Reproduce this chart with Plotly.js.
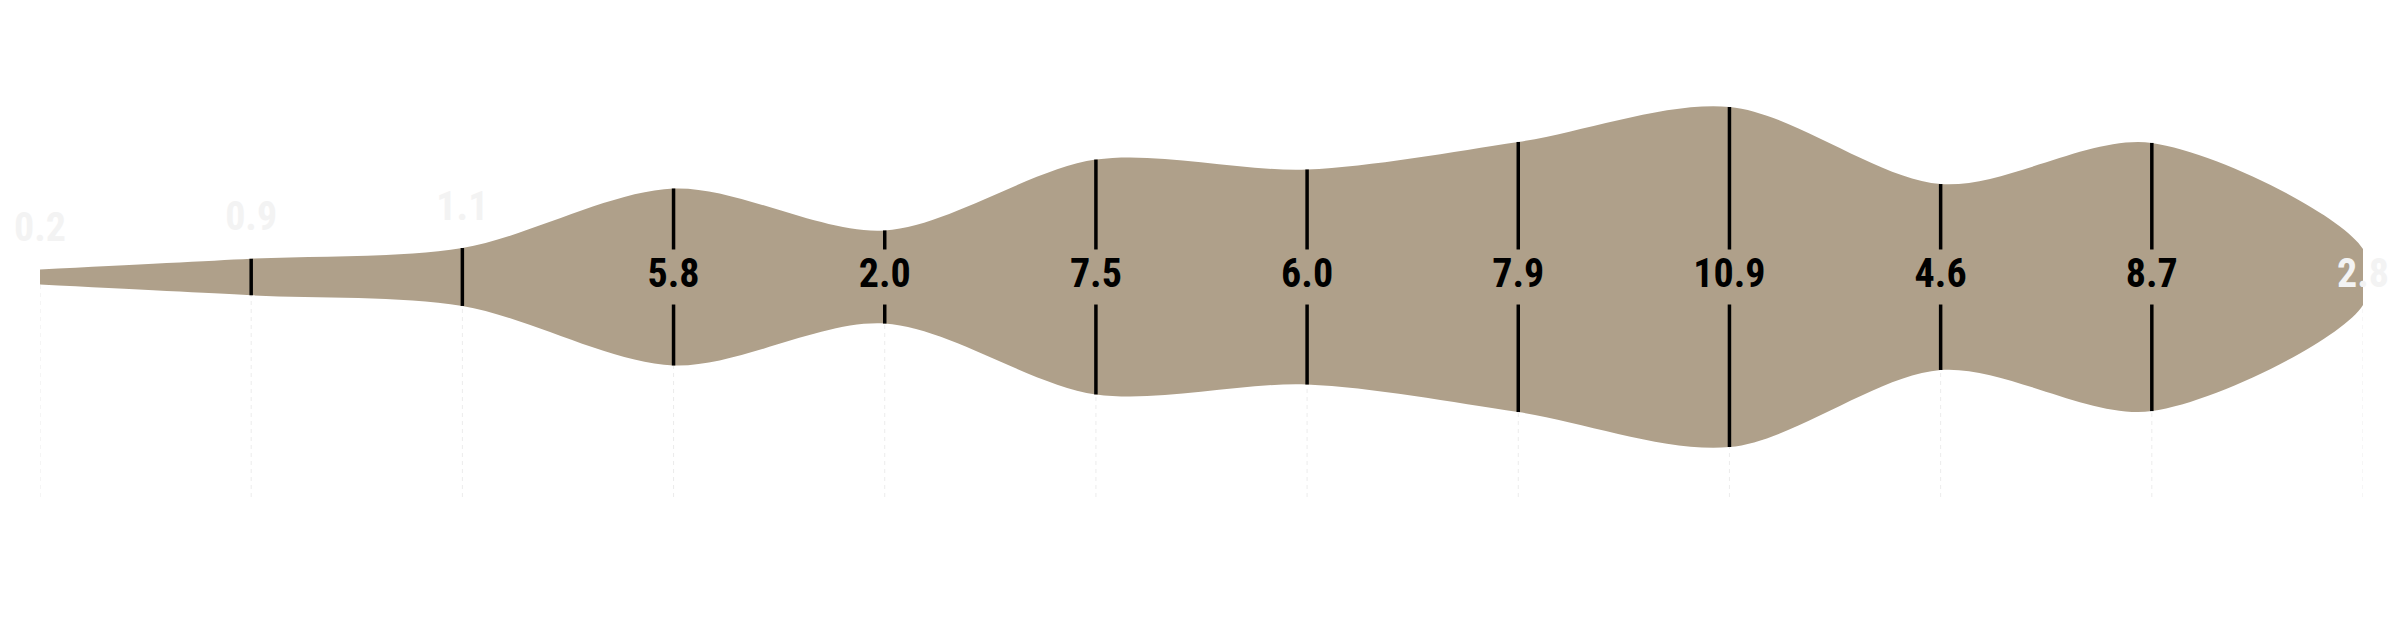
<!DOCTYPE html>
<html>
<head>
<meta charset="utf-8">
<script src="https://cdn.plot.ly/plotly-3.0.1.min.js"></script>
<style>
  html, body { margin: 0; padding: 0; background: #ffffff; }
  #chart { width: 2402px; height: 643px; }
</style>
</head>
<body>
<div id="chart"></div>
<script>
// Values shown as labels, one per column
const labels = ['0.2', '0.9', '1.1', '5.8', '2.0', '7.5', '6.0', '7.9', '10.9', '4.6', '8.7', '2.8'];
// Half thickness of the band at each column
const bandHalf = [0.47, 1.14, 1.81, 5.53, 2.91, 7.34, 6.72, 8.44, 10.63, 5.81, 8.38, 1.75];
// Column positions
const columns = labels.map((_, i) => i);

const BAND_COLOR = '#afa08a';
const FAINT = '#f3f3f3';
const FONT = '"Roboto Condensed", "Liberation Sans Narrow", "DejaVu Sans Condensed", sans-serif';
const Y_LIMIT = 14;
const LABEL_GAP = 1.72;   // half gap left in the black marker for the centred label
const ABOVE_OFFSET = 2.4; // distance of outside labels above the band

const last = columns.length - 1;
const isAbove = bandHalf.map((h, i) => h < 2 && i !== last);

// Light dashed guides from the centre line down to the bottom of the plot
const guideX = [], guideY = [];
columns.forEach(c => { guideX.push(c, c, null); guideY.push(0, -Y_LIMIT, null); });

// Closed band: top edge left to right, then bottom edge right to left
const bandX = columns.concat(columns.slice().reverse());
const bandY = bandHalf.concat(bandHalf.slice().reverse().map(h => -h));

// Black markers through the band, broken where the label sits
const markX = [], markY = [];
columns.forEach((c, i) => {
    if (i === 0 || i === last) return;
    const h = bandHalf[i];
    if (isAbove[i]) {
        markX.push(c, c, null); markY.push(h, -h, null);
    } else {
        markX.push(c, c, null, c, c, null);
        markY.push(h, LABEL_GAP, null, -LABEL_GAP, -h, null);
    }
});

const labelY = bandHalf.map((h, i) => isAbove[i] ? h + ABOVE_OFFSET : 0);
const labelColor = columns.map(i => (isAbove[i] || i === last) ? FAINT : '#000000');

const data = [
    {
        x: guideX, y: guideY, type: 'scatter', mode: 'lines',
        line: { color: '#ececec', width: 1, dash: '4px,4px' },
        hoverinfo: 'skip'
    },
    {
        x: bandX, y: bandY, type: 'scatter', mode: 'lines',
        fill: 'toself', fillcolor: BAND_COLOR,
        line: { color: BAND_COLOR, width: 0, shape: 'spline', smoothing: 0.9 },
        hoverinfo: 'skip'
    },
    {
        x: markX, y: markY, type: 'scatter', mode: 'lines',
        line: { color: '#000000', width: 3.5 },
        hoverinfo: 'skip'
    },
    {
        x: columns, y: labelY, type: 'scatter', mode: 'text',
        text: labels, textposition: 'middle center',
        textfont: { family: FONT, size: 40, color: labelColor, weight: 'bold' },
        cliponaxis: false,
        hoverinfo: 'skip'
    }
];

const layout = {
    width: 2402,
    height: 643,
    showlegend: false,
    hovermode: false,
    paper_bgcolor: '#ffffff',
    plot_bgcolor: '#ffffff',
    margin: { l: 40, r: 39, t: 53, b: 142, pad: 0 },
    xaxis: {
        range: [0, last],
        showgrid: false, zeroline: false, showline: false,
        showticklabels: false, ticks: '', fixedrange: true
    },
    yaxis: {
        range: [-Y_LIMIT, Y_LIMIT],
        showgrid: false, zeroline: false, showline: false,
        showticklabels: false, ticks: '', fixedrange: true
    }
};

Plotly.newPlot('chart', data, layout, { staticPlot: true, displayModeBar: false });
</script>
</body>
</html>
